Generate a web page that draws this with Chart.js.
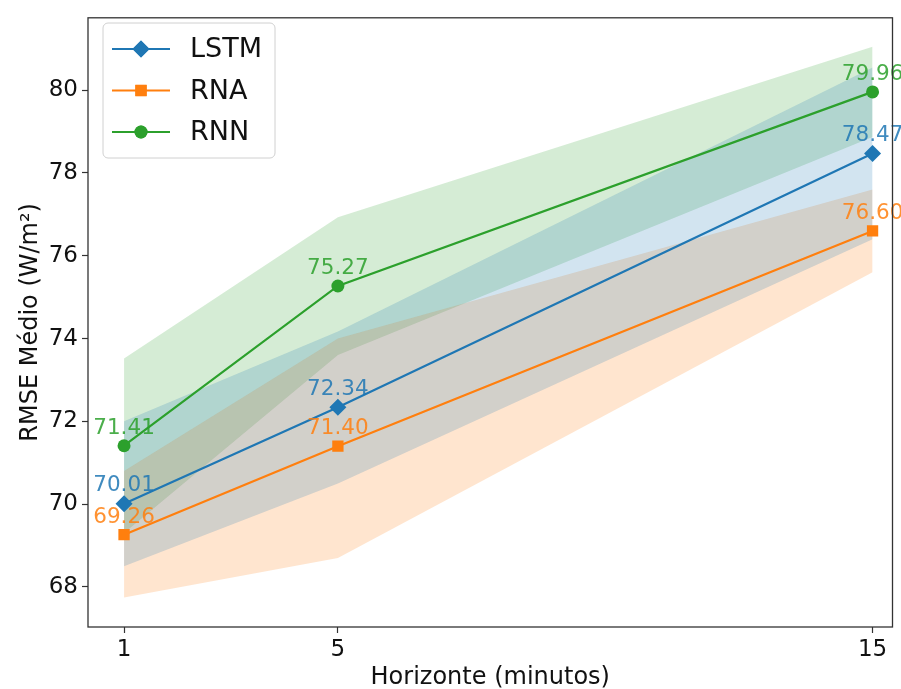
<!DOCTYPE html>
<html>
<head>
<meta charset="utf-8">
<script src="https://cdn.jsdelivr.net/npm/chart.js@4/dist/chart.umd.min.js"></script>
<style>
  html, body { margin: 0; padding: 0; background: #fff; }
  #wrap { width: 901px; height: 689px; }
</style>
</head>
<body>
<div id="wrap"><canvas id="rmseChart" width="901" height="689"></canvas></div>
<script>
// horizons (minutes) and mean RMSE per model
const horizons = [1, 5, 15];
const seriesNames = ['LSTM', 'RNA', 'RNN'];

const lstmMean = [70.01, 72.34, 78.47];
const lstmUpper = [72.0, 74.17, 80.55];
const lstmLower = [68.5, 70.5, 76.4];

const rnaMean = [69.26, 71.40, 76.60];
const rnaUpper = [70.8, 74.0, 77.6];
const rnaLower = [67.74, 68.7, 75.6];

const rnnMean = [71.41, 75.27, 79.96];
const rnnUpper = [73.52, 76.93, 81.05];
const rnnLower = [69.3, 73.6, 78.87];

const xTicks = [1, 5, 15];
const yTicks = [68, 70, 72, 74, 76, 78, 80];

const colors = ['#1f77b4', '#ff7f0e', '#2ca02c'];
const fills = ['rgba(31,119,180,0.2)', 'rgba(255,127,14,0.2)', 'rgba(44,160,44,0.2)'];
const markers = ['rectRot', 'rect', 'circle'];
const markerSize = [8.5, 8, 6.5];

const means = [lstmMean, rnaMean, rnnMean];
const uppers = [lstmUpper, rnaUpper, rnnUpper];
const lowers = [lstmLower, rnaLower, rnnLower];

const FONT = "'DejaVu Sans', sans-serif";

function pts(arr) {
    return arr.map((v, i) => ({ x: horizons[i], y: v }));
}

// mean lines first (drawn on top), then the band pairs
const datasets = [];
seriesNames.forEach((name, i) => {
    datasets.push({
        label: name,
        data: pts(means[i]),
        borderColor: colors[i],
        backgroundColor: colors[i],
        borderWidth: 2.2,
        pointStyle: markers[i],
        pointRadius: markerSize[i],
        pointBorderWidth: 0,
        fill: false,
        order: 0,
        isMean: true
    });
});
seriesNames.forEach((name, i) => {
    datasets.push({
        label: name + ' upper',
        data: pts(uppers[i]),
        borderWidth: 0,
        pointRadius: 0,
        fill: false,
        order: 1
    });
    datasets.push({
        label: name + ' lower',
        data: pts(lowers[i]),
        borderWidth: 0,
        pointRadius: 0,
        backgroundColor: fills[i],
        fill: '-1',
        order: 1
    });
});

// frame around the plot area
const framePlugin = {
    id: 'frame',
    afterDraw(chart) {
        const { ctx, chartArea: a } = chart;
        ctx.save();
        ctx.strokeStyle = '#333';
        ctx.lineWidth = 1.3;
        ctx.strokeRect(a.left, a.top, a.right - a.left, a.bottom - a.top);
        ctx.restore();
    }
};

// value labels above each mean point
const valueLabels = {
    id: 'valueLabels',
    afterDatasetsDraw(chart) {
        const ctx = chart.ctx;
        ctx.save();
        ctx.font = '21.5px ' + FONT;
        ctx.textAlign = 'center';
        ctx.textBaseline = 'bottom';
        ctx.globalAlpha = 0.85;
        chart.data.datasets.forEach((ds, di) => {
            if (!ds.isMean) return;
            const meta = chart.getDatasetMeta(di);
            meta.data.forEach((pt, j) => {
                ctx.fillStyle = colors[di];
                ctx.fillText(ds.data[j].y.toFixed(2), pt.x, pt.y - 7);
            });
        });
        ctx.restore();
    }
};

// matplotlib-like legend box in upper left
const boxLegend = {
    id: 'boxLegend',
    afterDraw(chart) {
        const ctx = chart.ctx;
        const x = 103, y = 23, w = 172, h = 135, r = 5;
        ctx.save();
        ctx.fillStyle = 'rgba(255,255,255,0.8)';
        ctx.strokeStyle = '#d0d0d0';
        ctx.lineWidth = 1;
        ctx.beginPath();
        ctx.roundRect(x, y, w, h, r);
        ctx.fill();
        ctx.stroke();
        seriesNames.forEach((name, i) => {
            const cy = 49 + i * 41.5;
            ctx.strokeStyle = colors[i];
            ctx.lineWidth = 2.2;
            ctx.beginPath();
            ctx.moveTo(112, cy);
            ctx.lineTo(170, cy);
            ctx.stroke();
            ctx.fillStyle = colors[i];
            Chart.helpers.drawPoint(ctx, { pointStyle: markers[i], radius: markerSize[i], borderWidth: 0 }, 141, cy);
            ctx.fill();
            ctx.fillStyle = '#111';
            ctx.font = '27px ' + FONT;
            ctx.textAlign = 'left';
            ctx.textBaseline = 'middle';
            ctx.fillText(name, 190, cy + 1);
        });
        ctx.restore();
    }
};

const ctx = document.getElementById('rmseChart').getContext('2d');
const rmseChart = new Chart(ctx, {
    type: 'line',
    data: { datasets: datasets },
    options: {
        responsive: false,
        animation: false,
        devicePixelRatio: 1,
        layout: { padding: { top: 15, right: 0, left: 0, bottom: 0 } },
        plugins: {
            legend: { display: false },
            tooltip: { enabled: false },
            filler: { propagate: false }
        },
        scales: {
            x: {
                type: 'linear',
                min: 0.326,
                max: 15.373,
                afterBuildTicks: (s) => { s.ticks = xTicks.map(v => ({ value: v })); },
                afterFit: (s) => { s.height = 62; },
                grid: { drawOnChartArea: false, tickLength: 6, tickColor: '#333', tickWidth: 1.2 },
                border: { display: false },
                ticks: { color: '#111', font: { family: FONT, size: 23 }, padding: 3, maxRotation: 0 },
                title: { display: true, text: 'Horizonte (minutos)', color: '#111', font: { family: FONT, size: 24 }, padding: { top: 0, bottom: -3 } }
            },
            y: {
                type: 'linear',
                min: 67.03,
                max: 81.75,
                afterBuildTicks: (s) => { s.ticks = yTicks.map(v => ({ value: v })); },
                afterFit: (s) => { s.width = 88; },
                grid: { drawOnChartArea: false, tickLength: 6, tickColor: '#333', tickWidth: 1.2 },
                border: { display: false },
                ticks: { color: '#111', font: { family: FONT, size: 23 }, padding: 4 },
                title: { display: true, text: 'RMSE Médio (W/m²)', color: '#111', font: { family: FONT, size: 24 }, padding: { top: 16, bottom: 0 } }
            }
        }
    },
    plugins: [framePlugin, valueLabels, boxLegend]
});
</script>
</body>
</html>
